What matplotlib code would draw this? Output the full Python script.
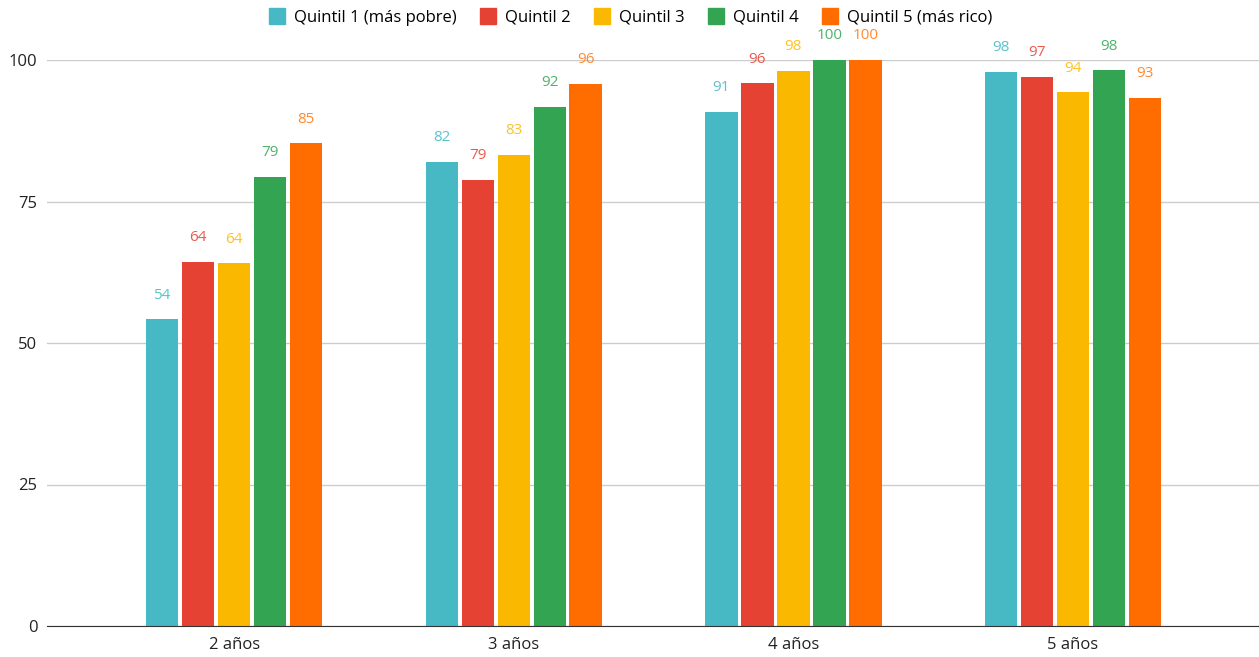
import matplotlib
matplotlib.use("Agg")
import matplotlib.pyplot as plt
from matplotlib.lines import Line2D
import numpy as np

categories = ["2 años", "3 años", "4 años", "5 años"]
series_names = ["Quintil 1 (más pobre)", "Quintil 2", "Quintil 3", "Quintil 4", "Quintil 5 (más rico)"]
q1 = [54.2, 82.0, 90.8, 97.9]
q2 = [64.3, 78.8, 95.9, 97.0]
q3 = [64.1, 83.2, 98.1, 94.3]
q4 = [79.3, 91.7, 100.0, 98.2]
q5 = [85.3, 95.8, 100.0, 93.3]
series = [q1, q2, q3, q4, q5]
colors = ["#47b9c4", "#e64234", "#fbb800", "#33a452", "#ff6d00"]
label_colors = ["#5cc2cb", "#ea5a4e", "#fcc22a", "#4fb36a", "#ff8a30"]
yticks = [0, 25, 50, 75, 100]

plt.rcParams['font.family'] = ['Open Sans', 'DejaVu Sans']

fig = plt.figure(figsize=(12.59, 6.57), dpi=100)
ax = fig.add_axes([47/1259, 31/657, 1 - 47/1259, (626-60)/657])

x = np.arange(len(categories))
step = 0.1287
width = 0.116
for i, (vals, c, lc) in enumerate(zip(series, colors, label_colors)):
    pos = x + (i - 2) * step
    ax.bar(pos, vals, width=width, color=c, zorder=3, label=series_names[i])
    for px, v in zip(pos, vals):
        ax.annotate(f"{round(v):d}", (px, v), xytext=(0, 12), textcoords="offset points",
                    ha="center", va="bottom", color=lc, fontsize=11, annotation_clip=False)

ax.set_xlim(-0.669, 3.665)
ax.set_ylim(0, 100)
ax.set_yticks(yticks)
ax.set_yticklabels([str(t) for t in yticks], fontsize=12, color="#222222")
ax.set_xticks(x)
ax.set_xticklabels(categories, fontsize=12, color="#222222")
ax.tick_params(axis="y", length=0, pad=7)
ax.tick_params(axis="x", length=0, pad=8)
ax.grid(axis="y", color="#cccccc", linewidth=1, zorder=0)
for s in ["top", "right", "left"]:
    ax.spines[s].set_visible(False)
ax.spines["bottom"].set_color("#333333")
ax.spines["bottom"].set_zorder(4)

handles = [Line2D([0], [0], marker="s", linestyle="", markersize=12, markerfacecolor=c,
                  markeredgecolor=c) for c in colors]
fig.legend(handles, series_names, loc="upper center", bbox_to_anchor=(0.5, 1.008), ncol=5,
           frameon=False, fontsize=12, handletextpad=0.4, columnspacing=1.3, handlelength=1.2)

fig.savefig("out.png", dpi=100)
